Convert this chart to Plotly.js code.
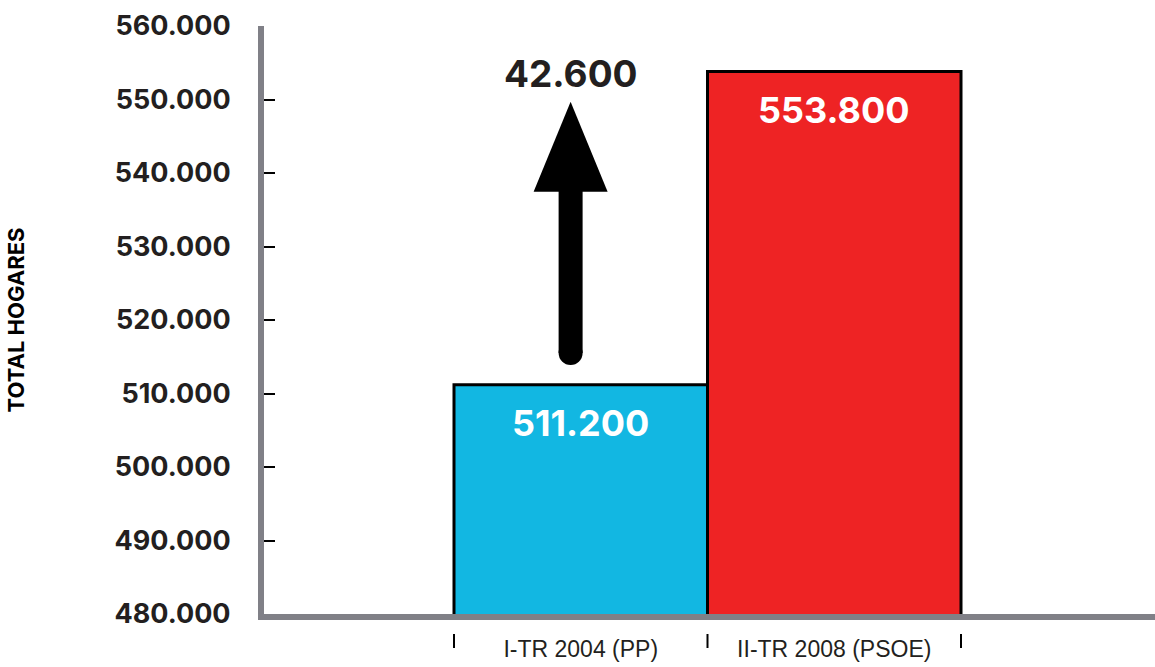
<!DOCTYPE html>
<html>
<head>
<meta charset="utf-8">
<script src="https://cdn.plot.ly/plotly-3.0.1.min.js"></script>
<style>html,body{margin:0;padding:0;background:#fff;}#chart{width:1155px;height:667px;}</style>
</head>
<body>
<div id="chart"></div>
<script>
// ---- data ----
const categories = ['I-TR 2004 (PP)', 'II-TR 2008 (PSOE)'];
const hogares = [511200, 553800];
const barColors = ['#12b7e2', '#ee2324'];
const yTickVals = [480000, 490000, 500000, 510000, 520000, 530000, 540000, 550000, 560000];
const yTitle = 'TOTAL HOGARES';

const fmt = v => Math.round(v).toString().replace(/\B(?=(\d{3})+(?!\d))/g, '.');
const diff = hogares[1] - hogares[0];

const TXT = '#231f20';
const BOLD = 'Inter, "Liberation Sans", Arial, sans-serif';

const trace = {
  type: 'bar',
  x: categories,
  y: hogares,
  width: 1,
  marker: { color: barColors, line: { color: '#000', width: 3 } },
  hoverinfo: 'x+y'
};

// arrow anchored on the first bar, from just above its top to just below the second value
const arrowX = -0.04;
const arrowBottom = hogares[0] + 4300;
const arrowTip = hogares[1] - 4100;

const shapes = [
  { type: 'rect', xref: 'x', yref: 'y', xsizemode: 'pixel', xanchor: arrowX,
    x0: -12, x1: 12, y0: arrowBottom, y1: arrowTip - 11000,
    fillcolor: '#000', line: { width: 0 } },
  { type: 'circle', xref: 'x', yref: 'y', xsizemode: 'pixel', ysizemode: 'pixel',
    xanchor: arrowX, yanchor: arrowBottom, x0: -12, x1: 12, y0: -12, y1: 12,
    fillcolor: '#000', line: { width: 0 } },
  { type: 'path', xref: 'x', yref: 'y', xsizemode: 'pixel', ysizemode: 'pixel',
    xanchor: arrowX, yanchor: arrowTip, path: 'M -37,-90 L 37,-90 L 0,0 Z',
    fillcolor: '#000', line: { width: 0 } }
];
// boundary ticks below the x axis
const bounds = categories.map((c, i) => i - 0.5).concat([categories.length - 0.5]);
bounds.forEach(b => shapes.push({
  type: 'line', xref: 'x', yref: 'paper', ysizemode: 'pixel', yanchor: 0,
  x0: b, x1: b, y0: -20, y1: -34, line: { color: '#000', width: 2 }
}));

const annotations = hogares.map((v, i) => ({
  x: categories[i], y: v, xref: 'x', yref: 'y', yanchor: 'top', yshift: -14,
  text: fmt(v), showarrow: false,
  font: { family: BOLD, size: 36, color: '#fff', weight: 700 }
}));
annotations.push({
  x: arrowX, y: arrowTip, xref: 'x', yref: 'y', yanchor: 'bottom', yshift: 4,
  text: fmt(diff), showarrow: false,
  font: { family: BOLD, size: 37, color: TXT, weight: 700 }
});

const layout = {
  width: 1155, height: 667,
  margin: { l: 264, r: 0, t: 26, b: 53 },
  paper_bgcolor: '#fff', plot_bgcolor: '#fff',
  separators: ',.',
  showlegend: false,
  bargap: 0,
  xaxis: {
    type: 'category',
    range: [-1.2495, 2.2653],
    showline: true, linecolor: '#808087', linewidth: 6,
    showgrid: false, zeroline: false, ticks: '',
    ticklabelstandoff: 9,
    tickfont: { family: '"Liberation Sans", Arial, sans-serif', size: 23, color: TXT, weight: 500 }
  },
  yaxis: {
    range: [480000, 560000],
    tickvals: yTickVals,
    tickformat: ',d',
    showline: true, linecolor: '#808087', linewidth: 6,
    showgrid: false, zeroline: false,
    ticks: 'inside', ticklen: 11, tickwidth: 2, tickcolor: '#000',
    ticklabelstandoff: 22,
    tickfont: { family: BOLD, size: 27, color: TXT, weight: 700 },
    title: { text: yTitle, standoff: 86, font: { family: BOLD, size: 22, color: '#000', weight: 700 } }
  },
  shapes: shapes,
  annotations: annotations
};

Plotly.newPlot('chart', [trace], layout, { displayModeBar: false, staticPlot: true });
</script>
</body>
</html>
